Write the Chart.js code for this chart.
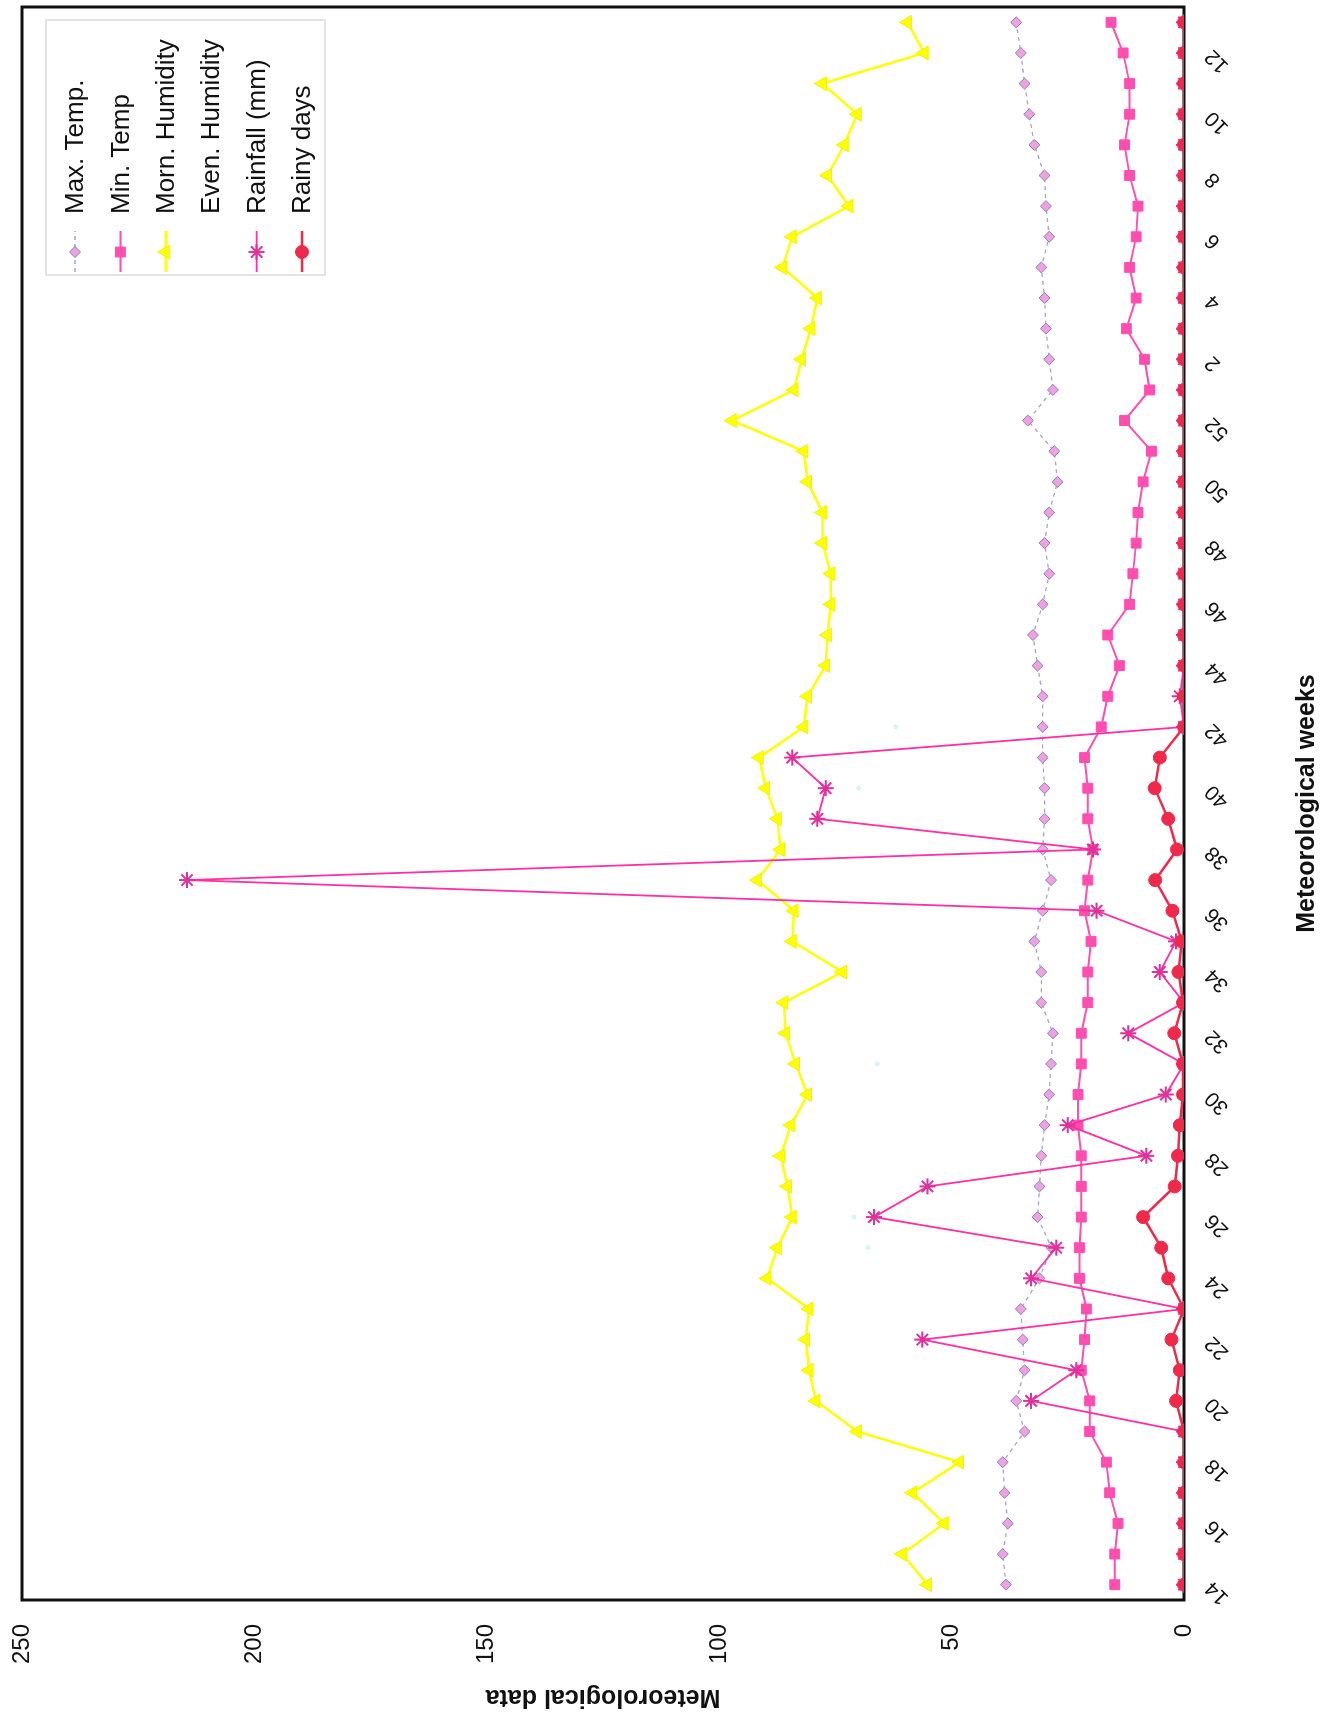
<!DOCTYPE html>
<html>
<head>
<meta charset="utf-8">
<title>Meteorological data</title>
<script src="https://cdn.jsdelivr.net/npm/chart.js@4/dist/chart.umd.min.js"></script>
<style>
  html, body { margin: 0; padding: 0; background: #fff; overflow: hidden; }
  /* the chart is drawn landscape and turned a quarter turn, like the scanned page */
  #wrap { position: absolute; left: 0; top: 0; width: 1723px; height: 1324px;
          transform-origin: 0 0; transform: translate(0px, 1723px) rotate(-90deg); }
  #chart { display: block; }
</style>
</head>
<body>
<div id="wrap"><canvas id="chart" width="1723" height="1324" style="width:1723px;height:1324px"></canvas></div>
<script>
"use strict";
// ========== DATA ========== //
const weeks = ['14','15','16','17','18','19','20','21','22','23','24','25','26','27','28','29','30',
  '31','32','33','34','35','36','37','38','39','40','41','42','43','44','45','46','47','48','49','50',
  '51','52','1','2','3','4','5','6','7','8','9','10','11','12','13'];

const maxTemp = [38.3, 39.0, 37.9, 38.6, 39.0, 34.3, 36.1, 34.3, 34.7, 35.1, 31.1, 28.5, 31.5, 31.1,
  30.7, 30.0, 29.0, 28.6, 28.2, 30.7, 30.7, 32.2, 30.4, 28.6, 30.4, 30.0, 30.0, 30.4, 30.4, 30.4,
  31.5, 32.5, 30.4, 29.0, 30.0, 29.0, 27.2, 27.9, 33.6, 28.2, 29.0, 29.7, 30.0, 30.7, 29.0, 29.7,
  30.0, 32.2, 33.3, 34.3, 35.1, 36.1];

const minTemp = [14.9, 14.9, 14.2, 16.0, 16.7, 20.3, 20.3, 22.1, 21.4, 21.0, 22.5, 22.5, 22.1, 22.1,
  22.1, 22.8, 22.8, 22.1, 22.1, 20.7, 20.7, 20.0, 21.4, 20.7, 19.6, 20.7, 20.7, 21.4, 17.8, 16.4,
  13.9, 16.4, 11.7, 11.0, 10.3, 9.9, 8.8, 7.0, 12.8, 7.4, 8.5, 12.4, 10.3, 11.7, 10.3, 9.9,
  11.7, 12.8, 11.7, 11.7, 13.1, 15.7];

const mornHumidity = [55.2, 60.6, 51.6, 58.4, 48.3, 70.3, 79.2, 80.7, 81.4, 80.7, 89.7, 87.5, 84.3,
  85.3, 86.8, 84.6, 81.0, 83.6, 85.7, 86.1, 73.5, 84.3, 83.9, 91.8, 86.8, 87.5, 90.0, 91.4, 81.8,
  81.0, 77.1, 76.7, 76.0, 76.0, 77.8, 77.8, 81.0, 81.8, 97.2, 83.9, 82.3, 80.3, 78.9, 86.4, 84.3,
  72.1, 76.7, 73.1, 70.3, 77.8, 55.9, 59.5];

// evening humidity is printed almost white in the scan; only a few faint marks can be read
const evenHumidity = [null, null, null, null, null, null, null, null, null, null, null, 68, 71, null,
  null, null, null, 66, null, null, null, null, null, null, null, null, 70, null, 62, null, null,
  null, null, null, null, null, null, null, null, null, null, null, null, null, null, null, null,
  null, null, null, null, null];

const rainfall = [0, 0, 0, 0, 0, 0, 32.9, 23.2, 56.3, 0, 32.9, 27.5, 66.7, 55.2, 8.1, 25.0, 3.9, 0,
  12.0, 0, 5.2, 1.7, 18.8, 214.5, 19.6, 78.9, 77.1, 84.3, 0, 0.9, 0, 0, 0, 0, 0, 0, 0, 0, 0,
  0, 0, 0, 0, 0, 0, 0, 0, 0, 0, 0, 0, 0];

const rainyDays = [0, 0, 0, 0, 0, 0, 1.7, 0.9, 2.7, 0, 3.4, 4.9, 8.8, 2.0, 1.3, 0.9, 0.2, 0.2, 2.1,
  0.2, 1.2, 0.5, 2.5, 6.2, 1.5, 3.4, 6.3, 5.2, 0, 0, 0, 0, 0, 0, 0, 0, 0, 0, 0, 0, 0, 0, 0, 0,
  0, 0, 0, 0, 0, 0, 0, 0];

const yTicks = [0, 50, 100, 150, 200, 250];

const FONT = '"Liberation Sans", Arial, Helvetica, sans-serif';

// ========== PLUGINS ========== //
// black frame round the plot area
const framePlugin = {
  id: 'frame',
  beforeDatasetsDraw(chart) {
    const {ctx, chartArea: a} = chart;
    ctx.save();
    ctx.strokeStyle = '#111';
    ctx.lineWidth = 3;
    ctx.strokeRect(a.left, a.top, a.right - a.left, a.bottom - a.top);
    ctx.restore();
  }
};

// legend box with line + marker, as in the spreadsheet chart
const boxLegend = {
  id: 'boxLegend',
  afterDraw(chart) {
    const ctx = chart.ctx;
    const x0 = 1448, y0 = 46, w = 255, h = 279;
    ctx.save();
    ctx.fillStyle = '#fff';
    ctx.fillRect(x0, y0, w, h);
    ctx.strokeStyle = '#e4e4e4';
    ctx.lineWidth = 2;
    ctx.strokeRect(x0, y0, w, h);
    chart.data.datasets.forEach((ds, i) => {
      const y = 75 + i * 45.4;
      if (!ds.hideInLegend) {
        ctx.save();
        ctx.strokeStyle = ds.borderColor;
        ctx.lineWidth = ds.borderWidth;
        ctx.setLineDash(ds.borderDash || []);
        ctx.beginPath();
        ctx.moveTo(1451, y);
        ctx.lineTo(1492, y);
        ctx.stroke();
        ctx.restore();
        const opts = {
          pointStyle: ds.pointStyle, radius: ds.pointRadius, rotation: 0,
          borderWidth: ds.pointBorderWidth || 1
        };
        ctx.save();
        ctx.fillStyle = ds.pointBackgroundColor;
        ctx.strokeStyle = ds.pointBorderColor;
        ctx.lineWidth = opts.borderWidth;
        if (Chart.helpers && Chart.helpers.drawPoint) {
          Chart.helpers.drawPoint(ctx, opts, 1471, y);
        } else {
          ctx.beginPath();
          ctx.arc(1471, y, ds.pointRadius, 0, Math.PI * 2);
          ctx.fill();
        }
        ctx.restore();
      }
      ctx.fillStyle = '#111';
      ctx.font = '26px ' + FONT;
      ctx.textAlign = 'left';
      ctx.textBaseline = 'middle';
      ctx.fillText(ds.label, 1509, y + 1);
    });
    ctx.restore();
  }
};

// ========== CHART ========== //
const chartContainer = document.querySelector('#chart');
const chart = new Chart(chartContainer, {
  type: 'line',
  data: {
    labels: weeks,
    datasets: [
      {
        label: 'Max. Temp.',
        data: maxTemp,
        borderColor: '#a8a2cc',
        borderWidth: 1.3,
        borderDash: [4, 4],
        pointStyle: 'rectRot',
        pointRadius: 5.5,
        pointBackgroundColor: '#f2a0e2',
        pointBorderColor: '#8080c0',
        pointBorderWidth: 1,
        order: 3
      },
      {
        label: 'Min. Temp',
        data: minTemp,
        borderColor: '#ff4db0',
        borderWidth: 2,
        pointStyle: 'rect',
        pointRadius: 7,
        pointBackgroundColor: '#ff4db0',
        pointBorderColor: '#ff4db0',
        pointBorderWidth: 1,
        order: 2
      },
      {
        label: 'Morn. Humidity',
        data: mornHumidity,
        borderColor: '#ffff00',
        borderWidth: 2.5,
        pointStyle: 'triangle',
        pointRadius: 8,
        pointBackgroundColor: '#ffff00',
        pointBorderColor: '#f2f200',
        pointBorderWidth: 1,
        order: 4
      },
      {
        label: 'Even. Humidity',
        data: evenHumidity,
        borderColor: 'rgba(190,238,238,0.55)',
        borderWidth: 1,
        showLine: false,
        pointStyle: 'circle',
        pointRadius: 2,
        pointBackgroundColor: 'rgba(190,238,238,0.55)',
        pointBorderColor: 'rgba(190,238,238,0.55)',
        hideInLegend: true,
        order: 5
      },
      {
        label: 'Rainfall (mm)',
        data: rainfall,
        borderColor: '#ff2fa6',
        borderWidth: 1.8,
        pointStyle: 'star',
        pointRadius: 8,
        pointBackgroundColor: '#ff2fa6',
        pointBorderColor: '#e0309a',
        pointBorderWidth: 2,
        order: 1
      },
      {
        label: 'Rainy days',
        data: rainyDays,
        borderColor: '#f0284a',
        borderWidth: 2.5,
        pointStyle: 'circle',
        pointRadius: 6.5,
        pointBackgroundColor: '#f0284a',
        pointBorderColor: '#f0284a',
        pointBorderWidth: 1,
        order: 0
      }
    ]
  },
  options: {
    responsive: false,
    animation: false,
    layout: { autoPadding: false, padding: { top: 22, right: 7, bottom: 0, left: 0 } },
    elements: { line: { tension: 0 } },
    plugins: { legend: { display: false }, tooltip: { enabled: false } },
    scales: {
      x: {
        offset: true,
        grid: { display: false, drawTicks: false },
        border: { display: false },
        ticks: {
          autoSkip: false,
          minRotation: 45,
          maxRotation: 45,
          padding: 16,
          color: '#111',
          font: { size: 21, family: FONT },
          callback: (value, index) => index % 2 === 0 ? weeks[index] : ''
        },
        title: {
          display: true,
          text: 'Meteorological weeks',
          color: '#111',
          font: { size: 25, weight: 'bold', family: FONT },
          padding: { top: 0, bottom: 2 }
        },
        afterFit: scale => { scale.height = 140; scale.paddingLeft = 0; scale.paddingRight = 0; }
      },
      y: {
        min: 0,
        max: 250,
        afterBuildTicks: scale => { scale.ticks = yTicks.map(v => ({ value: v })); },
        grid: { display: false, drawTicks: false },
        border: { display: false },
        ticks: { padding: 24, color: '#111', font: { size: 24, family: FONT } },
        title: {
          display: true,
          text: 'Meteorological data',
          color: '#111',
          font: { size: 25, weight: 'bold', family: FONT },
          padding: { top: 11, bottom: 0 }
        },
        afterFit: scale => { scale.width = 123; scale.paddingTop = 0; scale.paddingBottom = 0; }
      }
    }
  },
  plugins: [framePlugin, boxLegend]
});
</script>
</body>
</html>
